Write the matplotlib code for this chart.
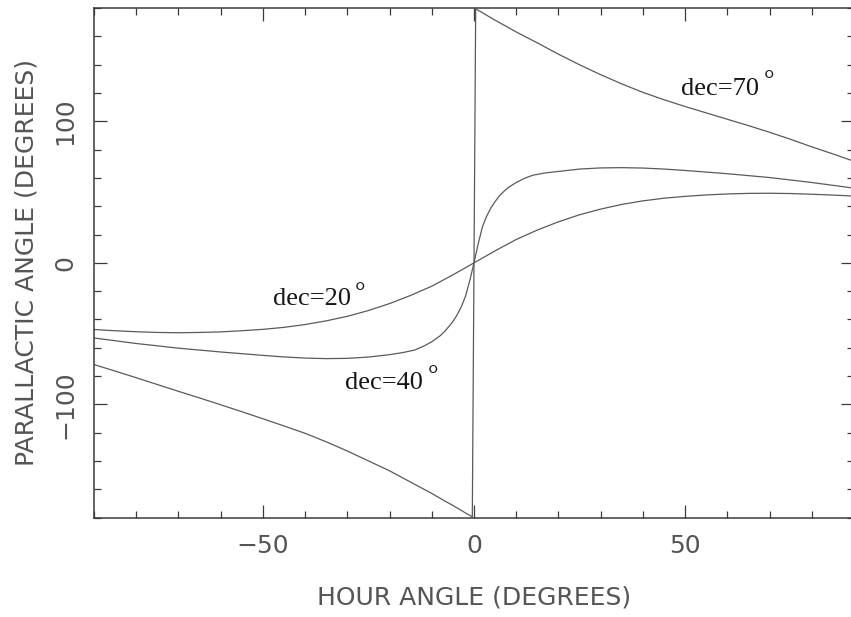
import matplotlib
matplotlib.use("Agg")
import matplotlib.pyplot as plt
from matplotlib.ticker import MultipleLocator

# Parallactic angle (deg) against hour angle (deg) for three declinations
ha_dec20 = [-90, -85, -80, -75, -70, -65, -60, -55, -50, -45, -40, -35, -30, -25, -20, -15, -10, -5, 0,
            5, 10, 15, 20, 25, 30, 35, 40, 45, 50, 55, 60, 65, 70, 75, 80, 85, 90]
pa_dec20 = [-47.1, -48.0, -48.7, -49.2, -49.4, -49.2, -48.8, -48.0, -47.0, -45.6, -43.6, -41.0,
            -37.8, -33.7, -28.8, -23.0, -16.5, -8.5, 0.0,
            8.5, 16.5, 23.2, 29.0, 34.0, 38.0, 41.3, 43.8, 45.7, 47.0, 48.0, 48.7, 49.1, 49.2,
            49.0, 48.5, 47.9, 47.2]

ha_dec40 = [-90, -80, -70, -60, -50, -45, -40, -35, -30, -25, -20, -17, -14, -12, -10, -8, -7, -6,
            -5, -4, -3, -2, -1, 0,
            1, 2, 3, 4, 5, 6, 7, 8, 10, 12, 14, 17, 20, 25, 30, 35, 40, 45, 50, 60, 70, 80, 90]
pa_dec40 = [-53.1, -57.0, -60.3, -63.0, -65.4, -66.5, -67.3, -67.7, -67.5, -66.6, -64.9, -63.5,
            -61.6, -59.0, -55.8, -51.5, -48.6, -45.2, -41.5, -36.8, -31.0, -23.5, -12.5, 0.0,
            13.5, 25.5, 33.0, 38.8, 43.3, 47.3, 50.3, 53.0, 56.8, 59.8, 62.0, 63.6, 64.6, 66.3,
            67.1, 67.3, 67.0, 66.3, 65.3, 63.0, 60.3, 56.8, 52.8]

ha_dec70 = [-90, -85, -80, -75, -70, -65, -60, -55, -50, -45, -40, -35, -30, -25, -20, -15, -10,
            -7, -5, -2, -0.4,
            0.4, 2, 5, 7, 10, 15, 20, 25, 30, 35, 40, 45, 50, 55, 60, 65, 70, 75, 80, 85, 90]
pa_dec70 = [-71.9, -76.5, -81.2, -86.0, -90.8, -95.5, -100.3, -105.2, -110.2, -115.3, -120.5,
            -126.5, -133.0, -140.0, -147.0, -155.0, -163.0, -168.2, -171.5, -176.8, -179.5,
            179.5, 176.8, 171.5, 168.2, 163.2, 155.5, 147.5, 140.0, 133.0, 126.5, 120.5, 115.3,
            110.5, 106.0, 101.5, 97.0, 92.3, 87.3, 82.0, 77.0, 71.8]

curve_labels = ["dec=20", "dec=40", "dec=70"]
label_pos = [(-47.7, -29.9), (-30.6, -88.9), (49.1, 118.7)]
degree_pos = [(-28.3, -25.7), (-11.0, -84.4), (68.6, 124.3)]

x_ticks = [-50, 0, 50]
y_ticks = [-100, 0, 100]

W, H = 851, 617
fig = plt.figure(figsize=(W / 100, H / 100), dpi=100)
ax = fig.add_axes([94 / W, (H - 517.5) / H, 760 / W, 509.3 / H])

line_color = "#5a5a5a"
for xs, ys in [(ha_dec20, pa_dec20), (ha_dec40, pa_dec40), (ha_dec70, pa_dec70)]:
    ax.plot(xs, ys, color=line_color, lw=0.9, solid_joinstyle="round")

ax.set_xlim(-90, 90)
ax.set_ylim(-180, 180)

ax.set_xticks(x_ticks)
ax.set_yticks(y_ticks)
ax.set_xticklabels(["\u221250", "0", "50"])
ax.set_yticklabels(["\u2212100", "0", "100"])
ax.xaxis.set_minor_locator(MultipleLocator(10))
ax.yaxis.set_minor_locator(MultipleLocator(20))

spine_color = "#3a3a3a"
for s in ax.spines.values():
    s.set_color(spine_color)
    s.set_linewidth(1.1)

text_grey = "#555555"
ax.tick_params(which="both", direction="in", top=True, right=True,
               color=spine_color, width=0.9)
ax.tick_params(which="major", length=9.4, pad=12, labelsize=18,
               labelcolor=text_grey)
ax.tick_params(which="minor", length=5)
ax.tick_params(axis="y", which="major", labelrotation=90)
for lab in ax.get_yticklabels():
    lab.set_va("center")

ax.set_xlabel("HOUR ANGLE (DEGREES)", fontsize=18, color=text_grey, labelpad=20)
ax.set_ylabel("PARALLACTIC ANGLE (DEGREES)", fontsize=18, color=text_grey, labelpad=11)

for text, (tx, ty), (dx, dy) in zip(curve_labels, label_pos, degree_pos):
    ax.text(tx, ty, text, family="Liberation Serif", fontsize=19,
            color="#161616", ha="left", va="baseline")
    ax.text(dx, dy, "\u00b0", family="Liberation Serif", fontsize=19,
            color="#161616", ha="left", va="baseline")

fig.savefig("out.png", dpi=100)
